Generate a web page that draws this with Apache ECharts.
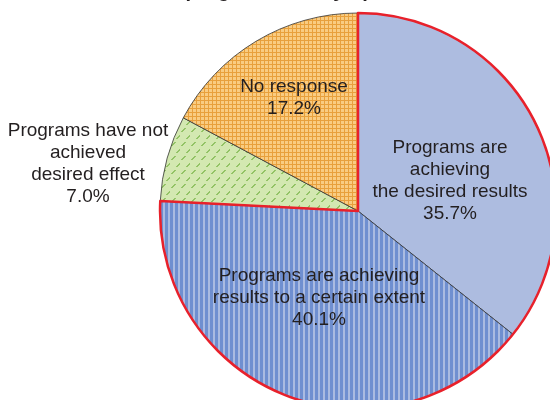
<!DOCTYPE html>
<html>
<head>
<meta charset="utf-8">
<script src="https://cdn.jsdelivr.net/npm/echarts@6/dist/echarts.min.js"></script>
<style>
html,body{margin:0;padding:0;background:#fff;}
#chart{width:550px;height:400px;}
</style>
</head>
<body>
<div id="chart"></div>
<script>
// ---- data ----
const categories = [
  'Programs are\nachieving\nthe desired results',
  'Programs are achieving\nresults to a certain extent',
  'Programs have not\nachieved\ndesired effect',
  'No response'
];
const values = [35.7, 40.1, 7.0, 17.2];
const titleText = 'Effectiveness of programs run by operators, FY2012';

// ---- styling helpers ----
function makePattern(w, h, draw) {
  const c = document.createElement('canvas');
  c.width = w; c.height = h;
  const ctx = c.getContext('2d');
  draw(ctx);
  return { image: c, repeat: 'repeat' };
}
const lightBlue = '#adbce0';
const stripeBlue = makePattern(5, 1, ctx => {
  ctx.fillStyle = '#aabbe1'; ctx.fillRect(0, 0, 5, 1);
  ctx.fillStyle = '#6f8fd0'; ctx.fillRect(0, 0, 3, 1);
});
const greenPat = makePattern(10, 14, ctx => {
  ctx.fillStyle = '#d3e8b1'; ctx.fillRect(0, 0, 10, 14);
  ctx.fillStyle = '#93c366';
  const mark = (ox, oy) => {
    ctx.fillRect(ox, oy + 3, 2, 1);
    ctx.fillRect(ox + 1, oy + 2, 2, 1);
    ctx.fillRect(ox + 2, oy + 1, 2, 1);
    ctx.fillRect(ox + 3, oy, 2, 1);
  };
  mark(1, 2); mark(6, 9);
});
const orangePat = makePattern(4, 4, ctx => {
  ctx.fillStyle = '#f9cc82'; ctx.fillRect(0, 0, 4, 4);
  ctx.fillStyle = '#e8a03c';
  ctx.fillRect(0, 0, 4, 1);
  ctx.fillRect(0, 0, 1, 4);
});
const sliceFills = [lightBlue, stripeBlue, greenPat, orangePat];
const labelPos = [[450, 181], [319, 298], [88, 164], [294, 98]];

const center = [358, 211];
const radius = 198;

const chart = echarts.init(document.getElementById('chart'), null, { renderer: 'canvas' });
chart.setOption({
  animation: false,
  backgroundColor: '#fff',
  graphic: [{
    type: 'text',
    left: 'center',
    top: -19,
    style: {
      text: titleText,
      fontFamily: 'Liberation Sans',
      fontWeight: 'bold',
      fontSize: 20,
      fill: '#231f20'
    }
  }],
  series: [
    {
      type: 'pie',
      center: center,
      radius: radius,
      startAngle: 90,
      clockwise: true,
      silent: true,
      avoidLabelOverlap: false,
      data: categories.map((c, i) => ({
        name: c,
        value: values[i],
        itemStyle: { color: sliceFills[i] }
      })),
      itemStyle: { borderColor: '#333', borderWidth: 0.8 },
      label: {
        show: true,
        position: 'inside',
        fontFamily: 'Liberation Sans',
        fontSize: 19,
        lineHeight: 22,
        color: '#231f20',
        align: 'center',
        formatter: p => p.name + '\n' + p.value.toFixed(1) + '%'
      },
      labelLine: { show: false },
      labelLayout: function (params) {
        const p = labelPos[params.dataIndex];
        return { x: p[0], y: p[1], align: 'center', verticalAlign: 'middle' };
      },
      emphasis: { disabled: true }
    },
    {
      type: 'pie',
      center: center,
      radius: radius,
      startAngle: 90,
      clockwise: true,
      silent: true,
      z: 5,
      label: { show: false },
      labelLine: { show: false },
      data: [
        { value: values[0] + values[1], itemStyle: { color: 'rgba(0,0,0,0)', borderColor: '#e8212b', borderWidth: 2.5 } },
        { value: values[2] + values[3], itemStyle: { color: 'rgba(0,0,0,0)', borderWidth: 0 } }
      ],
      emphasis: { disabled: true }
    }
  ]
});
</script>
</body>
</html>
